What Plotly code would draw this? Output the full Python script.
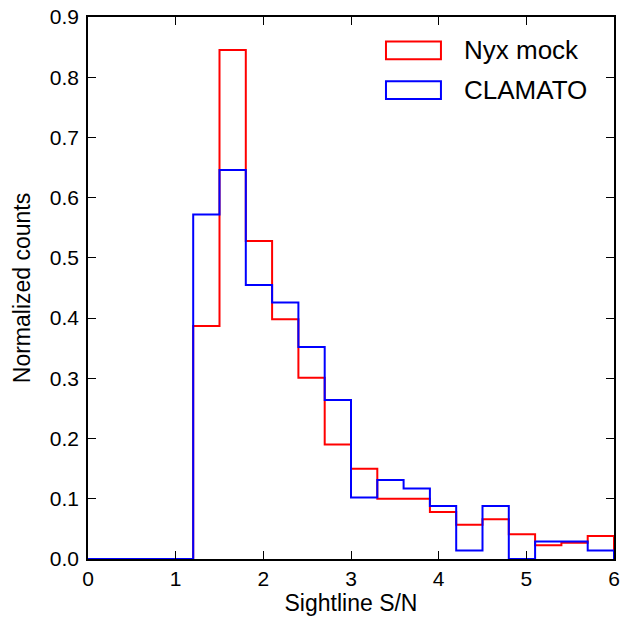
import plotly.graph_objects as go

bin_edges = [0.0, 0.3, 0.6, 0.9, 1.2, 1.5, 1.8, 2.1, 2.4, 2.7, 3.0, 3.3, 3.6, 3.9,
             4.2, 4.5, 4.8, 5.1, 5.4, 5.7, 6.0]
nyx_values = [0, 0, 0, 0, 0.387, 0.845, 0.528, 0.398, 0.301, 0.190, 0.150, 0.100,
              0.100, 0.078, 0.057, 0.066, 0.041, 0.023, 0.027, 0.038]
clamato_values = [0, 0, 0, 0, 0.572, 0.646, 0.455, 0.426, 0.352, 0.264, 0.102, 0.131,
                  0.117, 0.088, 0.014, 0.088, 0.0, 0.029, 0.029, 0.014]
series_names = ["Nyx mock", "CLAMATO"]
series_colors = ["#ff0000", "#0000ff"]
x_ticks = [0, 1, 2, 3, 4, 5, 6]
y_ticks = [0.0, 0.1, 0.2, 0.3, 0.4, 0.5, 0.6, 0.7, 0.8, 0.9]

FONT = "Liberation Sans, Arial, Helvetica, sans-serif"

fig = go.Figure()
for name, vals, col in zip(series_names, [nyx_values, clamato_values], series_colors):
    xs = list(bin_edges)
    ys = list(vals) + [0]
    fig.add_trace(go.Scatter(x=xs, y=ys, mode="lines", line=dict(color=col, width=2, shape="hv"),
                             name=name, showlegend=False, hoverinfo="skip"))

# custom legend (box outline + label)
leg_y = [0.9385, 0.865]
for i, (name, col) in enumerate(zip(series_names, series_colors)):
    fig.add_shape(type="rect", xref="paper", yref="paper",
                  x0=0.5665, x1=0.671, y0=leg_y[i] - 0.0165, y1=leg_y[i] + 0.0165,
                  line=dict(color=col, width=2), fillcolor="rgba(0,0,0,0)")
    fig.add_annotation(x=0.711, y=leg_y[i], xref="paper", yref="paper", text=name,
                       showarrow=False, xanchor="left", yanchor="middle",
                       font=dict(family=FONT, size=26, color="black"))

axis_common = dict(showline=True, linecolor="black", linewidth=1.5, mirror="ticks",
                   ticks="inside", ticklen=8, tickwidth=1, tickcolor="black",
                   showgrid=False, zeroline=False, automargin=False,
                   ticklabeloverflow="allow",
                   tickfont=dict(family=FONT, size=21, color="black"))
fig.update_xaxes(range=[0, 6], tickvals=x_ticks, ticktext=[str(t) for t in x_ticks],
                 title=dict(text="Sightline S/N", font=dict(family=FONT, size=23, color="black"), standoff=6),
                 **axis_common)
fig.update_yaxes(range=[0, 0.9], tickvals=y_ticks, ticktext=[f"{t:.1f}" for t in y_ticks],
                 title=dict(text="Normalized counts", font=dict(family=FONT, size=23, color="black"), standoff=13),
                 ticklabelstandoff=3,
                 **axis_common)

fig.update_layout(width=631, height=613, margin=dict(l=80, r=25, t=9, b=62),
                  plot_bgcolor="white", paper_bgcolor="white")
fig.write_html("out.html")
